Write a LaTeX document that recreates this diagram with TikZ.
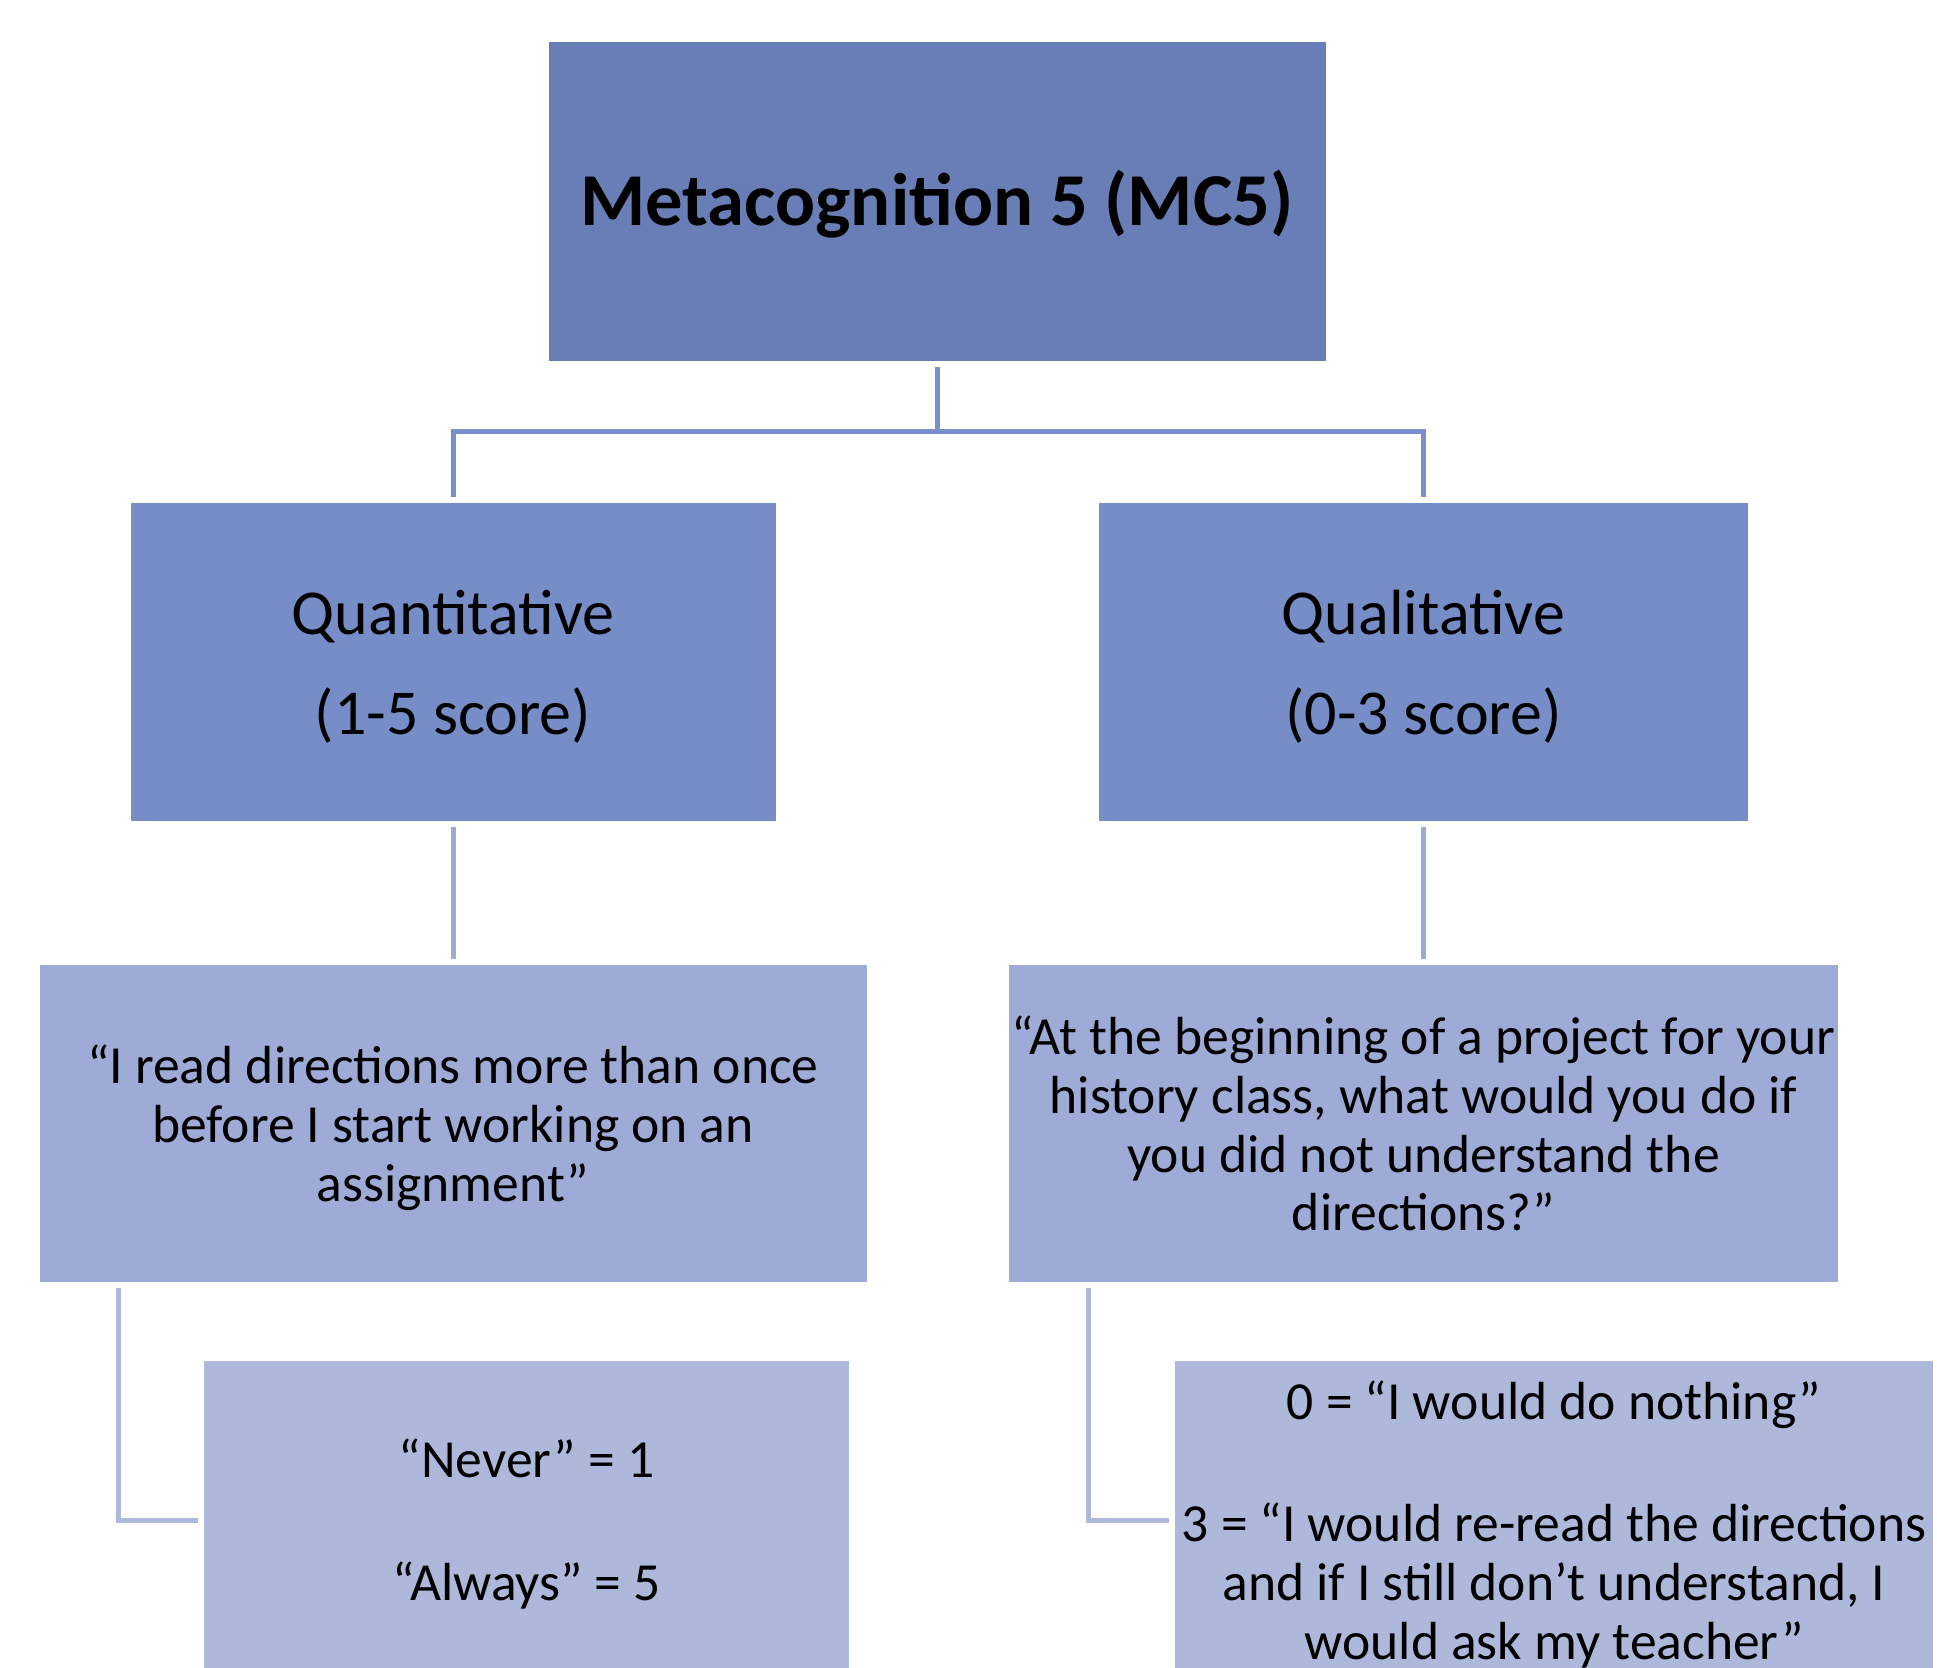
\documentclass[tikz,border=0pt]{standalone}
\usepackage{fontspec}
\setmainfont{Carlito}
\definecolor{lvA}{HTML}{697EB6}
\definecolor{lvB}{HTML}{778DC7}
\definecolor{lvC}{HTML}{9EABD6}
\definecolor{lvD}{HTML}{AEB8DB}
\definecolor{lnA}{HTML}{7B8FCB}
\definecolor{lnB}{HTML}{9DAAD8}
\definecolor{lnC}{HTML}{AEB8DB}
\begin{document}
\begin{tikzpicture}[x=0.5pt,y=-0.5pt,
  box/.style={rectangle, draw=none, inner sep=0pt},
  txt/.style={inner sep=0pt, align=center, text=black},
  conn/.style={line width=2.5pt, line cap=butt},
  gap/.style={shorten <=3pt, shorten >=3pt}]
\useasboundingbox (0,0) rectangle (1937,1668);
\clip (0,0) rectangle (1937,1668);
% level 1
\node[box, fill=lvA, minimum width=388.5pt, minimum height=159.5pt] (top) at (937,201.5) {};
\node[txt, font={\fontsize{37.3}{44}\selectfont\bfseries}] (topT) at ([yshift=-1.5pt]top.center) {Metacognition 5 (MC5)};
% level 2
\node[box, fill=lvB, minimum width=322.5pt, minimum height=159pt] (quant) at (453,662) {};
\node[txt, font={\fontsize{32}{35}\selectfont}] (quantT) at ([yshift=-2.3pt]quant.center) {Quantitative\\[15pt](1-5 score)};
\node[box, fill=lvB, minimum width=324.5pt, minimum height=159pt] (qual) at (1423.5,662) {};
\node[txt, font={\fontsize{32}{35}\selectfont}] (qualT) at ([yshift=-2.3pt]qual.center) {Qualitative\\[15pt](0-3 score)};
% level 3
\node[box, fill=lvC, minimum width=413.5pt, minimum height=158.5pt] (stmt) at (453,1123.5) {};
\node[txt, font={\fontsize{26.8}{29.4}\selectfont}] (stmtT) at ([yshift=-2.2pt]stmt.center)
      {“I read directions more than once\\before I start working on an\\assignment”};
\node[box, fill=lvC, minimum width=414.5pt, minimum height=158.5pt] (quest) at (1423.5,1123.5) {};
\node[txt, font={\fontsize{26.8}{29.4}\selectfont}] (questT) at ([yshift=0pt]quest.center)
      {“At the beginning of a project for your\\history class, what would you do if\\you did not understand the\\directions?”};
% level 4
\node[box, fill=lvD, minimum width=322.5pt, minimum height=159pt] (scale) at (526.5,1520) {};
\node[txt, font={\fontsize{26.8}{29.4}\selectfont}] (scaleT) at ([yshift=-1.8pt]scale.center)
      {“Never” = 1\\[32pt]“Always” = 5};
\node[box, fill=lvD, minimum width=379pt, minimum height=159pt] (answers) at (1554,1520) {};
\node[txt, font={\fontsize{26.8}{29.4}\selectfont}] (answersT) at ([yshift=-2.2pt]answers.center)
      {0 = “I would do nothing”\\[31.5pt]3 = “I would re-read the directions\\and if I still don’t understand, I\\would ask my teacher”};
% connectors
\draw[conn, lnA, gap] (top.south) -- ++(0,-35pt) -| (quant.north);
\draw[conn, lnA, gap] (top.south) -- ++(0,-35pt) -| (qual.north);
\draw[conn, lnB, gap] (quant.south) -- (stmt.north);
\draw[conn, lnB, gap] (qual.south) -- (quest.north);
\draw[conn, lnC, gap] ([xshift=39.5pt]stmt.south west) |- (scale.west);
\draw[conn, lnC, gap] ([xshift=40pt]quest.south west) |- (answers.west);
\end{tikzpicture}
\end{document}
